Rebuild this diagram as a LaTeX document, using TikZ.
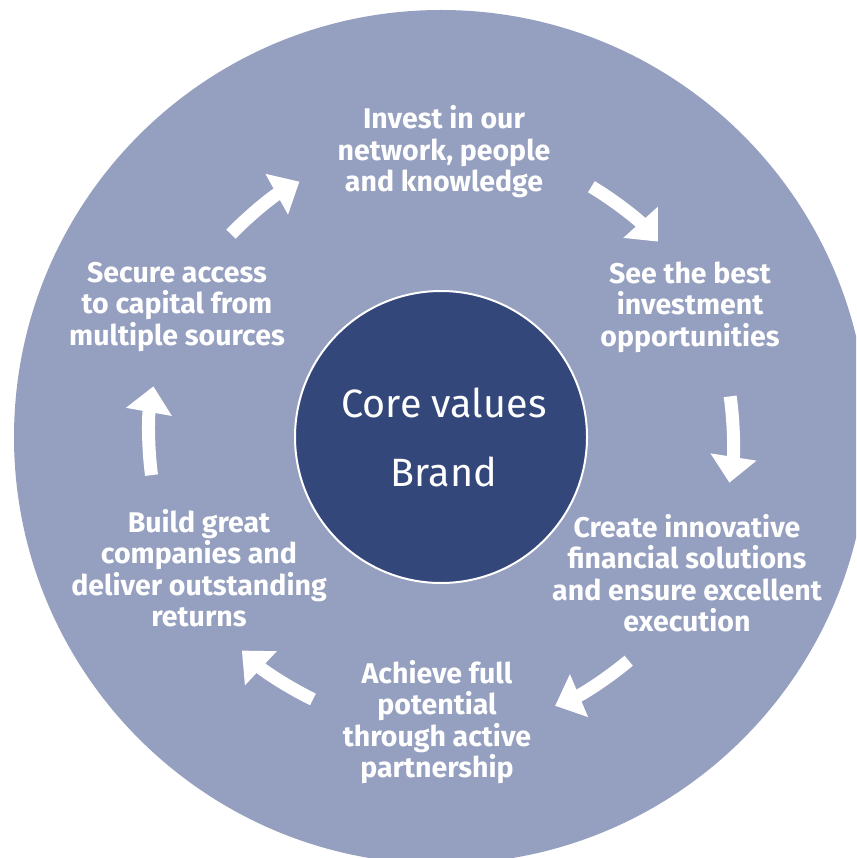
\documentclass[tikz,border=0pt]{standalone}
\usepackage{fontspec}
\setmainfont{Fira Sans}
\usetikzlibrary{arrows.meta,calc}
\definecolor{outerc}{RGB}{149,159,191}
\definecolor{innerc}{RGB}{52,71,122}
\begin{document}
\begin{tikzpicture}[x=1pt,y=1pt,
  lbl/.style={text=white,font=\bfseries\fontsize{28.5}{31.5}\selectfont,align=center,inner sep=0pt},
  core/.style={text=white,font=\fontsize{39.5}{40}\selectfont,inner sep=0pt},
  cyc/.style={draw=white,line width=13pt,-{Triangle[length=26pt,width=45pt]}}]
\useasboundingbox (0,-858) rectangle (856,0);
\coordinate (c) at (441,-437);
\begin{scope}
\clip (0,-858) rectangle (856,0);
\fill[outerc] (c) circle[radius=427];
\end{scope}
\node[circle,fill=innerc,draw=white,line width=2pt,minimum size=292pt,inner sep=0pt] (in) at (c) {};
\node[core] (cv) at (444,-403) {Core values};
\node[core] (br) at (444,-472) {Brand};
\node[lbl] (t1) at (444,-152) {Invest in our\\network, people\\and knowledge};
\node[lbl] (t2) at (690,-307) {See the best\\investment\\opportunities};
\node[lbl] (t3) at (687,-573) {Create innovative\\financial solutions\\and ensure excellent\\execution};
\node[lbl] (t4) at (437,-722) {Achieve full\\potential\\through active\\partnership};
\node[lbl] (t5) at (199,-568) {Build great\\companies and\\deliver outstanding\\returns};
\node[lbl] (t6) at (177,-307) {Secure access\\to capital from\\multiple sources};
\coordinate (a1) at ($(c)+(136:292)$);
\coordinate (a2) at ($(c)+(59:292)$);
\coordinate (a3) at ($(c)+(8:292)$);
\coordinate (a4) at ($(c)+(-50:292)$);
\coordinate (a5) at ($(c)+(-116:292)$);
\coordinate (a6) at ($(c)+(187.5:292)$);
\draw[cyc] (a1) arc[start angle=136,end angle=119,radius=292];
\draw[cyc] (a2) arc[start angle=59,end angle=42,radius=292];
\draw[cyc] (a3) arc[start angle=8,end angle=-9,radius=292];
\draw[cyc] (a4) arc[start angle=-50,end angle=-67,radius=292];
\draw[cyc] (a5) arc[start angle=-116,end angle=-133,radius=292];
\draw[cyc] (a6) arc[start angle=187.5,end angle=170,radius=292];
\end{tikzpicture}
\end{document}
